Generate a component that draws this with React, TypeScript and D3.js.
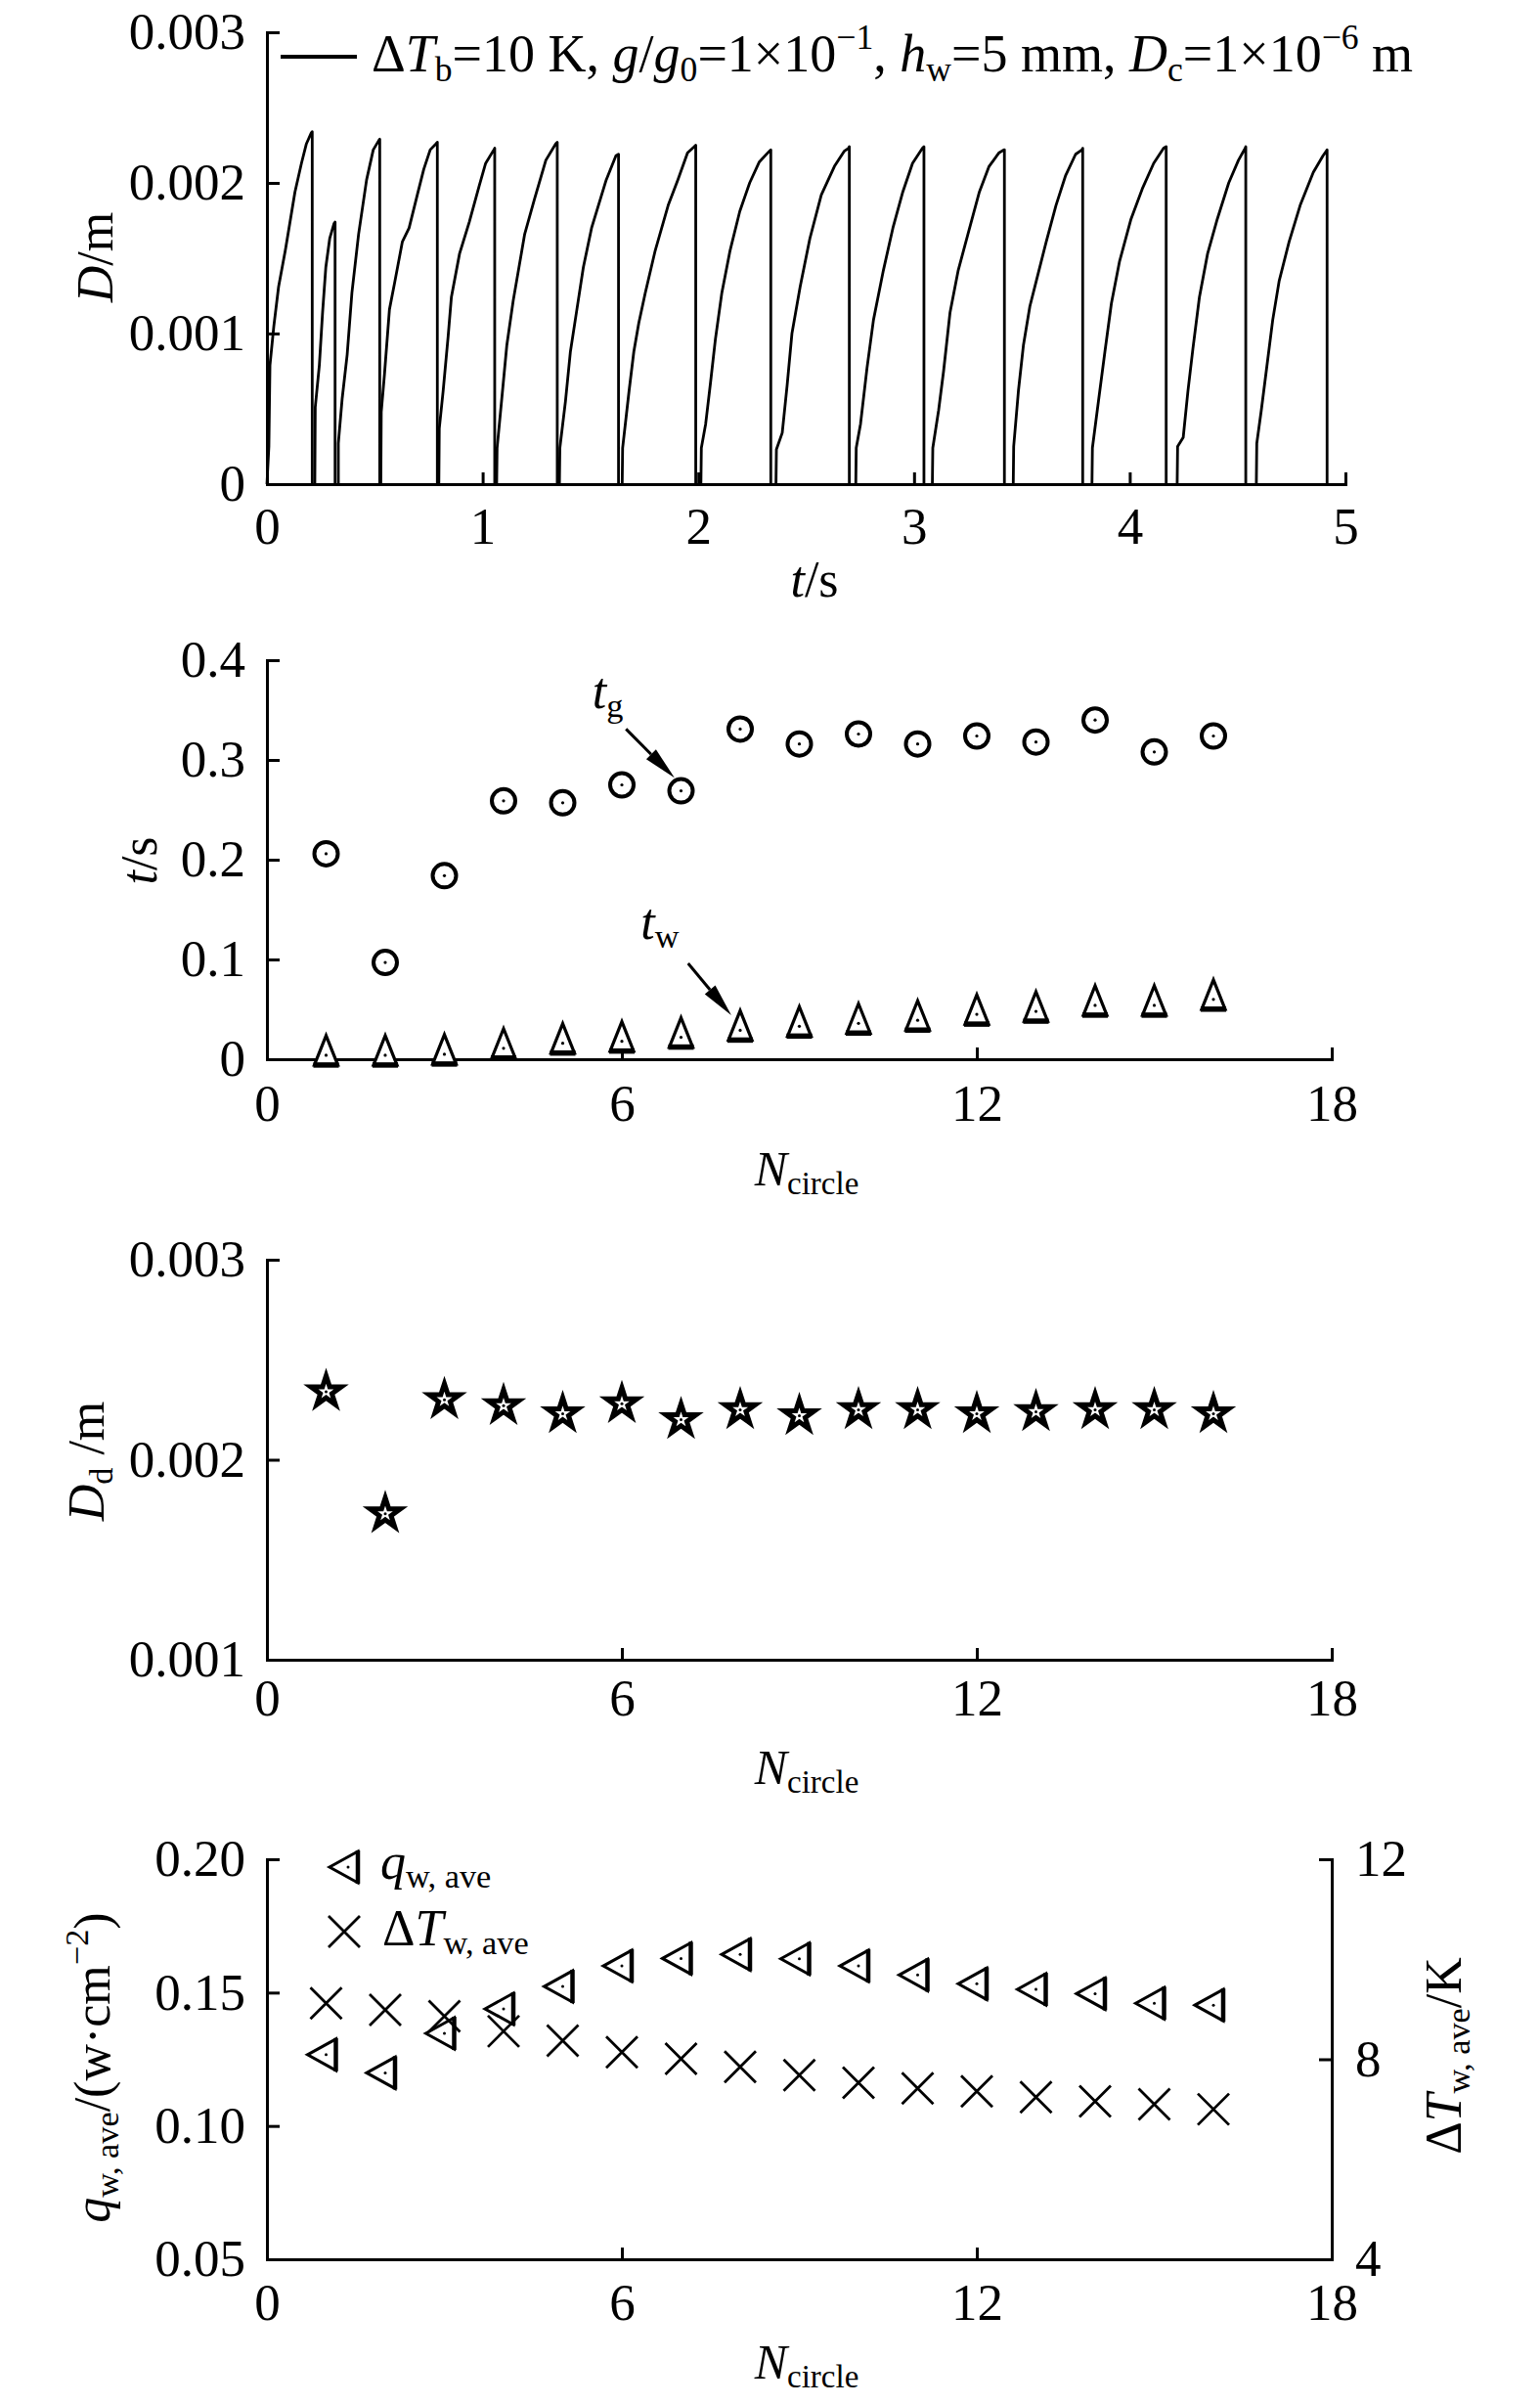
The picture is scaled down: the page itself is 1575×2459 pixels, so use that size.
import { useEffect, useRef } from "react";
import * as d3 from "d3";

type Pt = [number, number];

const W = 1575;
const H = 2459;
const FONT = '"Liberation Serif", "Times New Roman", serif';
const FS = 53;

// bubble diameter history, one [t, D] list per growth cycle
const cycles: Pt[][] = [
  [[0, 0], [0.009, 0.00025], [0.014, 0.00079], [0.032, 0.00105], [0.054, 0.00131], [0.085, 0.00155], [0.107, 0.00174], [0.13, 0.00194], [0.16, 0.00213], [0.183, 0.00226], [0.205, 0.00233], [0.21, 0.00234], [0.21, 0]],
  [[0.222, 0], [0.224, 0.00051], [0.243, 0.00079], [0.258, 0.00114], [0.273, 0.00144], [0.291, 0.00163], [0.311, 0.00173], [0.316, 0.00174], [0.316, 0]],
  [[0.331, 0], [0.331, 0.00027], [0.349, 0.00057], [0.372, 0.00086], [0.394, 0.00127], [0.425, 0.00166], [0.462, 0.00202], [0.493, 0.00222], [0.518, 0.00228], [0.523, 0.00229], [0.523, 0]],
  [[0.528, 0], [0.53, 0.00048], [0.545, 0.00073], [0.568, 0.00116], [0.591, 0.00133], [0.628, 0.00161], [0.659, 0.0017], [0.697, 0.00192], [0.727, 0.00209], [0.757, 0.00222], [0.784, 0.00226], [0.79, 0.00227], [0.79, 0]],
  [[0.797, 0], [0.799, 0.00037], [0.817, 0.00062], [0.84, 0.00098], [0.855, 0.00124], [0.893, 0.00153], [0.938, 0.00174], [0.984, 0.00198], [1.014, 0.00213], [1.052, 0.00222], [1.056, 0.00223], [1.056, 0]],
  [[1.065, 0], [1.067, 0.00024], [1.089, 0.00057], [1.112, 0.00092], [1.142, 0.00122], [1.195, 0.00166], [1.24, 0.00189], [1.293, 0.00215], [1.339, 0.00226], [1.346, 0.00227], [1.346, 0]],
  [[1.356, 0], [1.358, 0.00024], [1.384, 0.00055], [1.407, 0.00088], [1.437, 0.00116], [1.467, 0.00144], [1.505, 0.0017], [1.573, 0.00202], [1.618, 0.00218], [1.63, 0.00219], [1.63, 0]],
  [[1.647, 0], [1.649, 0.00024], [1.679, 0.00062], [1.701, 0.00088], [1.724, 0.00107], [1.754, 0.00127], [1.8, 0.00155], [1.86, 0.00185], [1.905, 0.00202], [1.95, 0.0022], [1.981, 0.00224], [1.988, 0.00225], [1.988, 0]],
  [[2.012, 0], [2.014, 0.00024], [2.034, 0.0004], [2.057, 0.00068], [2.079, 0.00096], [2.109, 0.00127], [2.147, 0.00155], [2.192, 0.00181], [2.238, 0.002], [2.283, 0.00214], [2.329, 0.00221], [2.336, 0.00222], [2.336, 0]],
  [[2.36, 0], [2.362, 0.00023], [2.389, 0.00034], [2.412, 0.00066], [2.434, 0.001], [2.472, 0.00131], [2.517, 0.00163], [2.57, 0.00192], [2.631, 0.00211], [2.676, 0.00221], [2.696, 0.00223], [2.7, 0.00224], [2.7, 0]],
  [[2.73, 0], [2.732, 0.00024], [2.752, 0.0004], [2.782, 0.00077], [2.812, 0.00109], [2.858, 0.00142], [2.902, 0.0017], [2.948, 0.00194], [2.993, 0.00213], [3.039, 0.00223], [3.046, 0.00224], [3.046, 0]],
  [[3.085, 0], [3.087, 0.00024], [3.114, 0.00049], [3.137, 0.00075], [3.167, 0.00114], [3.205, 0.00142], [3.25, 0.00166], [3.303, 0.00194], [3.348, 0.00211], [3.394, 0.0022], [3.417, 0.00222], [3.419, 0.00222], [3.419, 0]],
  [[3.46, 0], [3.462, 0.00025], [3.484, 0.00062], [3.507, 0.00092], [3.537, 0.00118], [3.567, 0.00135], [3.613, 0.00161], [3.658, 0.00185], [3.703, 0.00205], [3.749, 0.00219], [3.779, 0.00222], [3.782, 0.00223], [3.782, 0]],
  [[3.825, 0], [3.827, 0.00024], [3.855, 0.00055], [3.885, 0.00088], [3.915, 0.0012], [3.953, 0.00148], [4.006, 0.00176], [4.058, 0.00196], [4.111, 0.00213], [4.157, 0.00223], [4.169, 0.00224], [4.169, 0]],
  [[4.22, 0], [4.222, 0.00025], [4.248, 0.00031], [4.27, 0.00062], [4.293, 0.0009], [4.323, 0.00124], [4.361, 0.00153], [4.406, 0.00176], [4.459, 0.002], [4.504, 0.00215], [4.535, 0.00223], [4.538, 0.00224], [4.538, 0]],
  [[4.587, 0], [4.589, 0.00027], [4.61, 0.00049], [4.633, 0.00075], [4.663, 0.00109], [4.693, 0.00135], [4.739, 0.00161], [4.79, 0.00185], [4.851, 0.00207], [4.896, 0.00218], [4.911, 0.00221], [4.915, 0.00222], [4.915, 0]],
];

const nCircle = [1, 2, 3, 4, 5, 6, 7, 8, 9, 10, 11, 12, 13, 14, 15, 16];
const tGrowth = [0.206, 0.097, 0.184, 0.259, 0.257, 0.275, 0.269, 0.331, 0.316, 0.326, 0.316, 0.324, 0.318, 0.34, 0.308, 0.324];
const tWait = [0.004, 0.004, 0.005, 0.011, 0.016, 0.018, 0.022, 0.029, 0.033, 0.036, 0.039, 0.045, 0.048, 0.054, 0.054, 0.06];
const dDepart = [0.00234, 0.00173, 0.0023, 0.00227, 0.00223, 0.00228, 0.0022, 0.00225, 0.00222, 0.00225, 0.00225, 0.00223, 0.00224, 0.00225, 0.00225, 0.00223];
const qAve = [0.1267, 0.1199, 0.1347, 0.1439, 0.1523, 0.16, 0.1628, 0.1643, 0.1627, 0.16, 0.1566, 0.1533, 0.1512, 0.1496, 0.146, 0.1453];
const dTAve = [9.12, 8.99, 8.86, 8.56, 8.37, 8.14, 8.01, 7.85, 7.68, 7.53, 7.42, 7.36, 7.24, 7.16, 7.1, 7.0];

const tTicks = [0, 1, 2, 3, 4, 5];
const dTicks = [0, 0.001, 0.002, 0.003];
const nTicks = [0, 6, 12, 18];
const tsTicks = [0, 0.1, 0.2, 0.3, 0.4];
const ddTicks = [0.001, 0.002, 0.003];
const qTicks = [0.05, 0.1, 0.15, 0.2];
const dtTicks = [4, 8, 12];

type Part = { s: string; i?: boolean; sub?: boolean; sup?: boolean };

function rich(
  g: d3.Selection<any, unknown, null, undefined>,
  x: number,
  y: number,
  parts: Part[],
  size: number,
  anchor = "start"
) {
  const t = g
    .append("text")
    .attr("x", x)
    .attr("y", y)
    .attr("font-family", FONT)
    .attr("font-size", size)
    .attr("text-anchor", anchor)
    .attr("fill", "#000");
  let cur = 0;
  parts.forEach((p) => {
    const off = p.sub ? size * 0.18 : p.sup ? -size * 0.42 : 0;
    t.append("tspan")
      .attr("dy", off - cur)
      .attr("font-size", p.sub || p.sup ? size * 0.66 : size)
      .attr("font-style", p.i ? "italic" : "normal")
      .text(p.s);
    cur = off;
  });
  return t;
}

function styleAxis(a: d3.Selection<SVGGElement, unknown, null, undefined>) {
  a.attr("font-family", FONT).attr("font-size", FS);
  a.select(".domain").attr("stroke-width", 3).attr("stroke-linecap", "square");
  a.selectAll(".tick line").attr("stroke-width", 3);
  a.selectAll(".tick text").attr("fill", "#000");
}

export default function App() {
  const ref = useRef<SVGSVGElement>(null);

  useEffect(() => {
    if (!ref.current) return;
    const svg = d3.select(ref.current);
    svg.selectAll("*").remove();

    const L = 273;

    // ---------- panel 1: D vs t ----------
    const x1 = d3.scaleLinear().domain([0, 5]).range([L, 1376]);
    const y1 = d3.scaleLinear().domain([0, 0.003]).range([495, 33]);

    const line = d3
      .line<Pt>()
      .x((d) => x1(d[0]))
      .y((d) => y1(d[1]));

    svg
      .append("g")
      .selectAll("path")
      .data(cycles)
      .join("path")
      .attr("d", line)
      .attr("fill", "none")
      .attr("stroke", "#000")
      .attr("stroke-width", 2.8)
      .attr("stroke-linejoin", "round");

    styleAxis(
      svg
        .append("g")
        .attr("transform", `translate(${L},0)`)
        .call(
          d3
            .axisLeft(y1)
            .tickValues(dTicks)
            .tickFormat((d) => (+d === 0 ? "0" : d3.format(".3f")(+d)))
            .tickSize(-13)
            .tickSizeOuter(0)
            .tickPadding(22)
        )
    );
    styleAxis(
      svg
        .append("g")
        .attr("transform", `translate(0,${y1(0)})`)
        .call(
          d3
            .axisBottom(x1)
            .tickValues(tTicks)
            .tickFormat(d3.format("d"))
            .tickSize(-12)
            .tickSizeOuter(0)
            .tickPadding(23)
        )
    );

    // legend
    svg
      .append("line")
      .attr("x1", 287)
      .attr("x2", 365)
      .attr("y1", 58)
      .attr("y2", 58)
      .attr("stroke", "#000")
      .attr("stroke-width", 4);
    rich(
      svg,
      380,
      73,
      [
        { s: "Δ" },
        { s: "T", i: true },
        { s: "b", sub: true },
        { s: "=10 K, " },
        { s: "g", i: true },
        { s: "/" },
        { s: "g", i: true },
        { s: "0", sub: true },
        { s: "=1×10" },
        { s: "−1", sup: true },
        { s: ", " },
        { s: "h", i: true },
        { s: "w", sub: true },
        { s: "=5 mm, " },
        { s: "D", i: true },
        { s: "c", sub: true },
        { s: "=1×10" },
        { s: "−6", sup: true },
        { s: " m" },
      ],
      54
    );

    rich(svg, 0, 0, [{ s: "D", i: true }, { s: "/m" }], 52, "middle").attr(
      "transform",
      "translate(115,263) rotate(-90)"
    );
    rich(svg, 833, 610, [{ s: "t", i: true }, { s: "/s" }], 52, "middle");

    // ---------- panel 2: t_g, t_w ----------
    const xN = d3.scaleLinear().domain([0, 18]).range([L, 1362]);
    const y2 = d3.scaleLinear().domain([0, 0.4]).range([1083, 675]);

    styleAxis(
      svg
        .append("g")
        .attr("transform", `translate(${L},0)`)
        .call(
          d3
            .axisLeft(y2)
            .tickValues(tsTicks)
            .tickFormat((d) => (+d === 0 ? "0" : d3.format(".1f")(+d)))
            .tickSize(-13)
            .tickSizeOuter(0)
            .tickPadding(22)
        )
    );
    styleAxis(
      svg
        .append("g")
        .attr("transform", `translate(0,${y2(0)})`)
        .call(
          d3
            .axisBottom(xN)
            .tickValues(nTicks)
            .tickFormat(d3.format("d"))
            .tickSize(-12)
            .tickSizeOuter(0)
            .tickPadding(25)
        )
    );

    const gTg = svg
      .append("g")
      .selectAll("g")
      .data(nCircle)
      .join("g")
      .attr("transform", (d, i) => `translate(${xN(d)},${y2(tGrowth[i])})`);
    gTg
      .append("circle")
      .attr("r", 12)
      .attr("fill", "#fff")
      .attr("stroke", "#000")
      .attr("stroke-width", 4);
    gTg.append("circle").attr("r", 1.6).attr("fill", "#000");

    const gTw = svg
      .append("g")
      .selectAll("g")
      .data(nCircle)
      .join("g")
      .attr("transform", (d, i) => `translate(${xN(d)},${y2(tWait[i])})`);
    gTw
      .append("path")
      .attr("d", "M0,-20L-12,10L12,10Z")
      .attr("fill", "#fff")
      .attr("stroke", "#000")
      .attr("stroke-width", 3.2)
      .attr("stroke-linejoin", "miter");
    gTw
      .append("line")
      .attr("x1", -13)
      .attr("x2", 13)
      .attr("y1", 10)
      .attr("y2", 10)
      .attr("stroke", "#000")
      .attr("stroke-width", 5.5);
    gTw.append("circle").attr("r", 1.6).attr("fill", "#000");

    const arrow = (xa: number, ya: number, xb: number, yb: number) => {
      const dx = xb - xa;
      const dy = yb - ya;
      const len = Math.hypot(dx, dy);
      const ux = dx / len;
      const uy = dy / len;
      const hl = 34;
      const hw = 7;
      const bx = xb - ux * hl;
      const by = yb - uy * hl;
      svg
        .append("line")
        .attr("x1", xa)
        .attr("y1", ya)
        .attr("x2", bx)
        .attr("y2", by)
        .attr("stroke", "#000")
        .attr("stroke-width", 3);
      svg
        .append("path")
        .attr(
          "d",
          `M${xb},${yb}L${bx - uy * hw},${by + ux * hw}L${bx + uy * hw},${by - ux * hw}Z`
        )
        .attr("fill", "#000");
    };
    arrow(xN(6.07), y2(0.331), xN(6.89), y2(0.282));
    arrow(xN(7.12), y2(0.096), xN(7.85), y2(0.044));
    rich(svg, xN(5.5), y2(0.352), [{ s: "t", i: true }, { s: "g", sub: true }], 52);
    rich(svg, xN(6.32), y2(0.121), [{ s: "t", i: true }, { s: "w", sub: true }], 52);

    rich(svg, 0, 0, [{ s: "t", i: true }, { s: "/s" }], 52, "middle").attr(
      "transform",
      "translate(160,880) rotate(-90)"
    );
    rich(svg, 825, 1212, [{ s: "N", i: true }, { s: "circle", sub: true }], 50, "middle");

    // ---------- panel 3: departure diameter ----------
    const y3 = d3.scaleLinear().domain([0.001, 0.003]).range([1697, 1288]);
    styleAxis(
      svg
        .append("g")
        .attr("transform", `translate(${L},0)`)
        .call(
          d3
            .axisLeft(y3)
            .tickValues(ddTicks)
            .tickFormat(d3.format(".3f"))
            .tickSize(-13)
            .tickSizeOuter(0)
            .tickPadding(22)
        )
    );
    styleAxis(
      svg
        .append("g")
        .attr("transform", `translate(0,${y3(0.001)})`)
        .call(
          d3
            .axisBottom(xN)
            .tickValues(nTicks)
            .tickFormat(d3.format("d"))
            .tickSize(-12)
            .tickSizeOuter(0)
            .tickPadding(19)
        )
    );

    const star = d3.symbol().type(d3.symbolStar).size(300);
    const gSt = svg
      .append("g")
      .selectAll("g")
      .data(nCircle)
      .join("g")
      .attr("transform", (d, i) => `translate(${xN(d)},${y3(dDepart[i])})`);
    gSt
      .append("path")
      .attr("d", star)
      .attr("fill", "#fff")
      .attr("stroke", "#000")
      .attr("stroke-width", 5)
      .attr("stroke-linejoin", "miter");
    gSt.append("circle").attr("r", 1.5).attr("fill", "#000");

    rich(
      svg,
      0,
      0,
      [{ s: "D", i: true }, { s: "d", sub: true }, { s: " /m" }],
      52,
      "middle"
    ).attr("transform", "translate(106,1494) rotate(-90)");
    rich(svg, 825, 1824, [{ s: "N", i: true }, { s: "circle", sub: true }], 50, "middle");

    // ---------- panel 4: q_w,ave and dT_w,ave ----------
    const y4 = d3.scaleLinear().domain([0.05, 0.2]).range([2310, 1901]);
    const y4r = d3.scaleLinear().domain([4, 12]).range([2310, 1901]);
    styleAxis(
      svg
        .append("g")
        .attr("transform", `translate(${L},0)`)
        .call(
          d3
            .axisLeft(y4)
            .tickValues(qTicks)
            .tickFormat(d3.format(".2f"))
            .tickSize(-13)
            .tickSizeOuter(0)
            .tickPadding(22)
        )
    );
    styleAxis(
      svg
        .append("g")
        .attr("transform", `translate(${xN(18)},0)`)
        .call(
          d3
            .axisRight(y4r)
            .tickValues(dtTicks)
            .tickFormat(d3.format("d"))
            .tickSize(-13)
            .tickSizeOuter(0)
            .tickPadding(24)
        )
    );
    styleAxis(
      svg
        .append("g")
        .attr("transform", `translate(0,${y4(0.05)})`)
        .call(
          d3
            .axisBottom(xN)
            .tickValues(nTicks)
            .tickFormat(d3.format("d"))
            .tickSize(-12)
            .tickSizeOuter(0)
            .tickPadding(24)
        )
    );

    const leftTri = (g: d3.Selection<any, any, any, any>) => {
      g.append("path")
        .attr("d", "M-19,0L10,-16L10,16Z")
        .attr("fill", "#fff")
        .attr("stroke", "#000")
        .attr("stroke-width", 3)
        .attr("stroke-linejoin", "miter");
      g.append("line")
        .attr("x1", 10)
        .attr("x2", 10)
        .attr("y1", -17)
        .attr("y2", 17)
        .attr("stroke", "#000")
        .attr("stroke-width", 4.5);
      g.append("circle").attr("r", 1.5).attr("fill", "#000");
    };
    const cross = (g: d3.Selection<any, any, any, any>) => {
      g.append("path")
        .attr("d", "M-16,-16L16,16M16,-16L-16,16")
        .attr("fill", "none")
        .attr("stroke", "#000")
        .attr("stroke-width", 2.8);
    };

    svg
      .append("g")
      .selectAll("g")
      .data(nCircle)
      .join("g")
      .attr("transform", (d, i) => `translate(${xN(d)},${y4(qAve[i])})`)
      .call(leftTri);
    svg
      .append("g")
      .selectAll("g")
      .data(nCircle)
      .join("g")
      .attr("transform", (d, i) => `translate(${xN(d)},${y4r(dTAve[i])})`)
      .call(cross);

    // legend
    leftTri(svg.append("g").attr("transform", "translate(356,1909)"));
    cross(svg.append("g").attr("transform", "translate(352,1975)"));
    rich(svg, 389, 1921, [{ s: "q", i: true }, { s: "w, ave", sub: true }], 52);
    rich(svg, 391, 1989, [{ s: "Δ" }, { s: "T", i: true }, { s: "w, ave", sub: true }], 52);

    rich(
      svg,
      0,
      0,
      [
        { s: "q", i: true },
        { s: "w, ave", sub: true },
        { s: "/(w·cm" },
        { s: "−2", sup: true },
        { s: ")" },
      ],
      52,
      "middle"
    ).attr("transform", "translate(112,2114) rotate(-90)");
    rich(
      svg,
      0,
      0,
      [{ s: "Δ" }, { s: "T", i: true }, { s: "w, ave", sub: true }, { s: "/K" }],
      52,
      "middle"
    ).attr("transform", "translate(1494,2102) rotate(-90)");
    rich(svg, 825, 2432, [{ s: "N", i: true }, { s: "circle", sub: true }], 50, "middle");
  }, []);

  return (
    <svg
      ref={ref}
      width={W}
      height={H}
      style={{ position: "absolute", left: 0, top: 0, background: "#fff" }}
    />
  );
}
